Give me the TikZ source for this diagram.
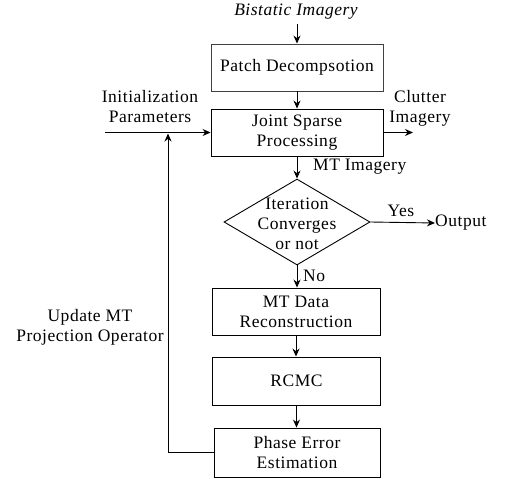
\documentclass[tikz,border=0pt]{standalone}
\usepackage{fontspec}
\setmainfont[LetterSpace=3]{Liberation Serif}
\usetikzlibrary{shapes.geometric,arrows.meta}
\begin{document}
\begin{tikzpicture}[x=1pt,y=-1pt,
  font=\fontsize{17.5}{20}\selectfont,
  box/.style={draw, line width=0.9pt, minimum width=168pt, minimum height=47pt, inner sep=0pt, align=center},
  arr/.style={-{Stealth[length=8pt,width=7pt]}, line width=0.9pt},
  lbl/.style={align=center, inner sep=0pt}]
\useasboundingbox (0,0) rectangle (509,479);
% boxes
\node[box, minimum width=172pt, draw=black!75] (patch) at (297,67.5) {Patch Decompsotion};
\node[box, minimum width=172pt] (joint) at (297,132.5) {Joint Sparse\\Processing};
\node[draw, diamond, line width=0.9pt, minimum width=146pt, minimum height=86pt, inner sep=0pt] (dec) at (297,222) {};
\node[lbl] (dect) at (297,224) {Iteration\\Converges\\or not};
\node[box] (mtd) at (296,311.5) {MT Data\\Reconstruction};
\node[box, minimum height=48pt] (rcmc) at (296.5,381) {RCMC};
\node[box, minimum height=49pt, minimum width=166pt] (phase) at (297,452.5) {Phase Error\\Estimation};
% labels
\node[lbl, font=\fontsize{17.5}{20}\selectfont\itshape] (bi) at (296,12) {Bistatic Imagery};
\node[lbl] (init) at (150,107) {Initialization\\Parameters};
\node[lbl] (clut) at (420,108) {Clutter\\Imagery};
\node[lbl, anchor=west] (mti) at (313,167) {MT Imagery};
\node[lbl] (yes) at (401,211) {Yes};
\node[lbl, anchor=west] (out) at (435,223) {Output};
\node[lbl, anchor=west] (no) at (303,276) {No};
\node[lbl] (upd) at (90,327) {Update MT\\Projection Operator};
% coordinates
\coordinate (bitop) at (297,24);
\coordinate (instart) at (105,132.5);
\coordinate (clutend) at (413,132.5);
\coordinate (fbtop) at (168,133.5);
% connectors
\draw[arr] (bitop) -- (patch.north);
\draw[arr] (patch.south) -- (joint.north);
\draw[arr] (instart) -- (joint.west);
\draw[arr] (joint.east) -- (clutend);
\draw[arr] (joint.south) -- (dec.north);
\draw[arr] (dec.east) -- (out.west);
\draw[arr] (dec.south) -- (dec.south |- mtd.north);
\draw[arr] (mtd.south) -- (mtd.south |- rcmc.north);
\draw[arr] (rcmc.south) -- (rcmc.south |- phase.north);
\draw[arr] (phase.west) -| (fbtop);
\end{tikzpicture}
\end{document}
